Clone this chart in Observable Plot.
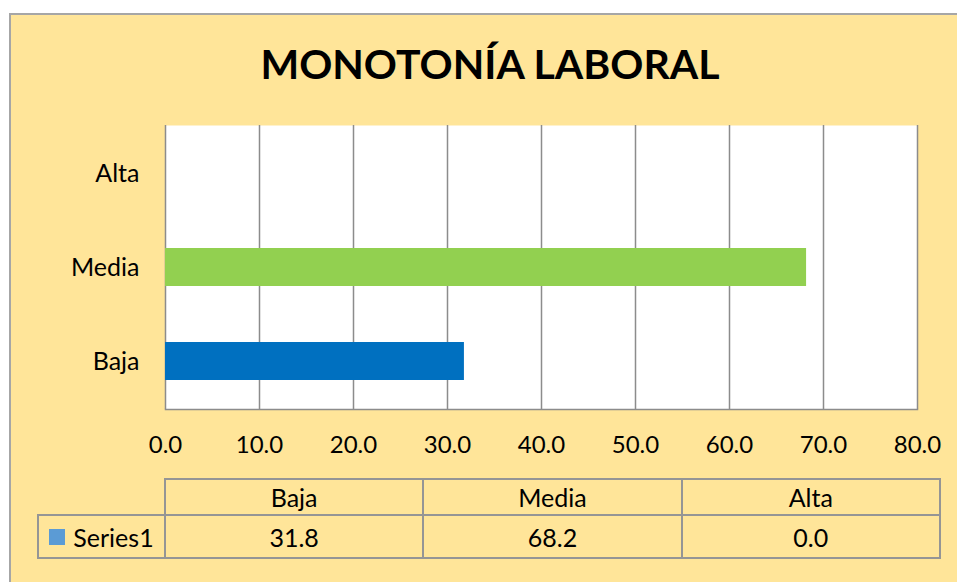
<!DOCTYPE html>
<html><head><meta charset="utf-8">
<script src="https://cdn.jsdelivr.net/npm/d3@7"></script>
<script src="https://cdn.jsdelivr.net/npm/@observablehq/plot@0.6"></script>
<style>
body{margin:0;background:#fff;}
#wrap{position:relative;width:957px;height:582px;overflow:hidden;font-family:Lato,sans-serif;color:#000;}
#bg{position:absolute;left:9px;top:13px;width:1000px;height:600px;background:#FFE599;border-top:2px solid #A6A6A6;border-left:2px solid #A6A6A6;box-sizing:border-box;}
#title{position:absolute;left:9px;width:962px;top:36px;text-align:center;font-weight:bold;font-size:41px;line-height:56px;}
#chart{position:absolute;left:0;top:0;}
.cell{position:absolute;box-sizing:border-box;border:2px solid #959595;display:flex;align-items:center;justify-content:center;font-size:25px;}
.key{display:inline-block;width:16px;height:16px;margin-right:8px;}
</style></head>
<body>
<div id="wrap">
  <div id="bg"></div>
  <div id="title">MONOTONÍA LABORAL</div>
  <div id="chart"></div>
  <div id="table"></div>
</div>
<script>
const categories = ["Baja", "Media", "Alta"];
const values = [31.8, 68.2, 0.0];
const barColors = ["#0070C0", "#92D050", "#5B9BD5"];
const yOrder = ["Alta", "Media", "Baja"];
const xTicks = [0, 10, 20, 30, 40, 50, 60, 70, 80];
const seriesName = "Series1";
const seriesKeyColor = "#5B9BD5";

const data = categories.map((c, i) => ({category: c, value: values[i]}));

const chart = Plot.plot({
  width: 957, height: 582,
  marginLeft: 165, marginRight: 40, marginTop: 125, marginBottom: 173,
  style: {background: "transparent", fontFamily: "Lato, sans-serif", fontSize: "24px", color: "#000", overflow: "visible"},
  x: {domain: [0, 80], ticks: xTicks},
  y: {domain: yOrder, paddingInner: 0.6, paddingOuter: 0.3},
  color: {domain: categories, range: barColors},
  marks: [
    Plot.frame({fill: "white", stroke: "none"}),
    Plot.ruleX(xTicks, {stroke: "#8C8C8C", strokeWidth: 1.5}),
    Plot.barX(data, {y: "category", x: "value", fill: "category"}),
    Plot.frame({anchor: "bottom", stroke: "#8C8C8C", strokeWidth: 1.5}),
    Plot.axisX({ticks: xTicks, tickSize: 0, tickPadding: 26, tickFormat: d => d.toFixed(1), label: null, fontSize: 24}),
    Plot.axisY({tickSize: 0, tickPadding: 26, label: null, fontSize: 25})
  ]
});
document.getElementById("chart").appendChild(chart);

// data table beneath the chart
const table = document.getElementById("table");
const colX = [165, 423.3, 681.6, 940];
function cell(x, y, w, h, html) {
  const d = document.createElement("div");
  d.className = "cell";
  d.style.left = (x - 1) + "px";
  d.style.top = (y - 1) + "px";
  d.style.width = (w + 2) + "px";
  d.style.height = (h + 2) + "px";
  d.innerHTML = html;
  table.appendChild(d);
}
categories.forEach((c, i) => {
  cell(colX[i], 479, colX[i + 1] - colX[i], 36, c);
  cell(colX[i], 515, colX[i + 1] - colX[i], 43, values[i].toFixed(1));
});
cell(38, 515, 127, 43, `<span class="key" style="background:${seriesKeyColor}"></span>${seriesName}`);
</script>
</body></html>
